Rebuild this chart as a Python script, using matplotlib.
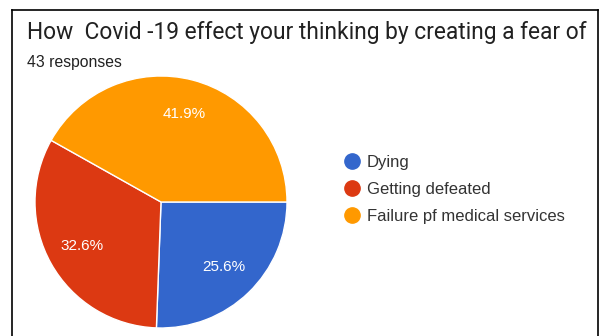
import matplotlib
matplotlib.use("Agg")
import matplotlib.pyplot as plt
from matplotlib.lines import Line2D

title = "How  Covid -19 effect your thinking by creating a fear of"
subtitle = "43 responses"
categories = ["Dying", "Getting defeated", "Failure pf medical services"]
responses = [11, 14, 18]
colors = ["#3366cc", "#dc3912", "#ff9900"]

W, H = 600, 336
fig = plt.figure(figsize=(W / 100, H / 100), dpi=100)
fig.patch.set_facecolor("white")
plt.rcParams["font.family"] = ["Liberation Sans", "DejaVu Sans"]

# card outline (open at the bottom)
fig.add_artist(Line2D([12 / W, 12 / W], [0, 1 - 10 / H], color="black", lw=1.2))
fig.add_artist(Line2D([598 / W, 598 / W], [0, 1 - 10 / H], color="black", lw=1.2))
fig.add_artist(Line2D([12 / W, 598 / W], [1 - 10 / H, 1 - 10 / H], color="black", lw=1.2))

fig.text(27 / W, 1 - 39 / H, title, fontsize=16.4, color="#212121", ha="left",
         va="baseline", family=["Roboto", "DejaVu Sans"])
fig.text(27 / W, 1 - 67 / H, subtitle, fontsize=11.3, color="#212121", ha="left",
         va="baseline")

cx, cy, r = 161, 202, 126
ax = fig.add_axes([(cx - r) / W, (H - cy - r) / H, 2 * r / W, 2 * r / H])
wedges, _, autotexts = ax.pie(
    responses,
    colors=colors,
    startangle=0,
    counterclock=False,
    autopct="%.1f%%",
    pctdistance=0.72,
    radius=1,
    wedgeprops=dict(edgecolor="white", linewidth=1),
    textprops=dict(color="white", fontsize=11),
)
ax.set_xlim(-1, 1)
ax.set_ylim(-1, 1)
ax.set_aspect("equal")
ax.axis("off")

handles = [Line2D([], [], marker="o", linestyle="none", markersize=11,
                  markerfacecolor=c, markeredgecolor=c) for c in colors]
fig.legend(handles, categories, loc="upper left",
           bbox_to_anchor=(342 / W, 1 - 155 / H), frameon=False,
           fontsize=12, handletextpad=0.3, labelspacing=0.72,
           handlelength=1.2, borderaxespad=0, borderpad=0,
           labelcolor="#333333")

fig.savefig("out.png", dpi=100, facecolor="white")
